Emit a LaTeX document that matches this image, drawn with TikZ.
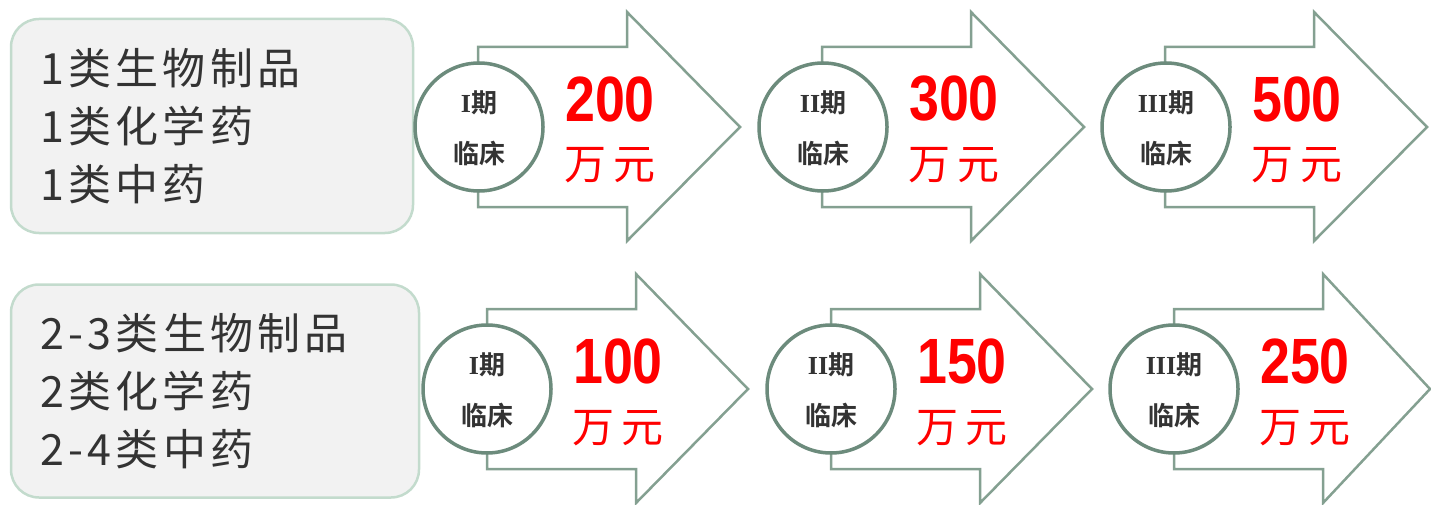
\documentclass[tikz,border=0pt]{standalone}
\usepackage{fontspec}
\setmainfont{Liberation Sans}
\newfontfamily\cjk{Noto Sans CJK SC}
\newfontfamily\cjkwide{Noto Sans CJK SC}[LetterSpace=10]
\newfontfamily\cjkb{Noto Sans CJK SC Bold}
\newfontfamily\serifb{Liberation Serif}[BoldFont=* Bold]
\newfontfamily\numf{Liberation Sans}
\definecolor{boxfill}{HTML}{F2F2F2}
\definecolor{boxline}{HTML}{C3DBCD}
\definecolor{arrline}{HTML}{84A091}
\definecolor{circline}{HTML}{6C8B7C}
\definecolor{txtgray}{HTML}{333333}
\definecolor{redtxt}{HTML}{FF0000}
\tikzset{
  leftbox/.style={draw=boxline, line width=2.5pt, fill=boxfill, rounded corners=28pt,
    minimum width=402pt, minimum height=214pt, inner sep=0pt},
  lefttext/.style={anchor=west, align=left, text=txtgray, inner sep=0pt,
    font=\cjkwide\fontsize{43}{58}\selectfont},
  arrowshape/.style={draw=arrline, line width=2.5pt, fill=white, line join=miter},
  phase/.style={circle, draw=circline, line width=3.5pt, fill=white, minimum size=128pt, inner sep=0pt},
  phasetext/.style={text=txtgray, inner sep=0pt, font=\cjkb\fontsize{26}{28}\selectfont},
  amount/.style={text=redtxt, inner sep=0pt, font=\numf\bfseries\fontsize{64}{64}\selectfont},
  unit/.style={text=redtxt, inner sep=0pt, font=\cjk\fontsize{42}{42}\selectfont},
}
\newcommand{\bigarrow}[3]{% #1 shaft left x, #2 mid y, #3 tip x
  \draw[arrowshape] (#1,#2-80) -- (#1+149,#2-80) -- (#1+149,#2-115) -- (#3,#2) -- (#1+149,#2+114) -- (#1+149,#2+80) -- (#1,#2+80) -- cycle;
}
\begin{document}
\begin{tikzpicture}[x=1pt,y=-1pt]
\useasboundingbox (0,0) rectangle (1431,505);
% row 1
\node[leftbox] (b1) at (212,126) {};
\node[lefttext] (t1) at (40,126) {1类生物制品\\1类化学药\\1类中药};
\bigarrow{478}{127}{740}
\bigarrow{822}{127}{1084}
\bigarrow{1165}{127}{1427}
\node[phase] (c11) at (479,127) {};
\node[phase] (c12) at (823,127) {};
\node[phase] (c13) at (1166,127) {};
\node[phasetext] (p11) at (479,103) {{\serifb\bfseries I}期};
\node[phasetext] (q11) at (479,153) {临床};
\node[phasetext] (p12) at (823,103) {{\serifb\bfseries II}期};
\node[phasetext] (q12) at (823,153) {临床};
\node[phasetext] (p13) at (1166,103) {{\serifb\bfseries III}期};
\node[phasetext] (q13) at (1166,153) {临床};
\node[amount] (a11) at (610,99) {\scalebox{0.84}[1]{200}};
\node[amount] (a12) at (954,99) {\scalebox{0.84}[1]{300}};
\node[amount] (a13) at (1297,99) {\scalebox{0.84}[1]{500}};
\node[unit] (u11) at (610,165) {万\,元};
\node[unit] (u12) at (954,165) {万\,元};
\node[unit] (u13) at (1297,165) {万\,元};
% row 2
\node[leftbox, minimum width=408pt, minimum height=213pt] (b2) at (215,391) {};
\node[lefttext] (t2) at (40,391) {2-3类生物制品\\2类化学药\\2-4类中药};
\bigarrow{487}{389}{748}
\bigarrow{831}{389}{1092}
\bigarrow{1174}{389}{1430}
\node[phase] (c21) at (487,389) {};
\node[phase] (c22) at (831,389) {};
\node[phase] (c23) at (1174,389) {};
\node[phasetext] (p21) at (487,365) {{\serifb\bfseries I}期};
\node[phasetext] (q21) at (487,415) {临床};
\node[phasetext] (p22) at (831,365) {{\serifb\bfseries II}期};
\node[phasetext] (q22) at (831,415) {临床};
\node[phasetext] (p23) at (1174,365) {{\serifb\bfseries III}期};
\node[phasetext] (q23) at (1174,415) {临床};
\node[amount] (a21) at (618,361) {\scalebox{0.84}[1]{100}};
\node[amount] (a22) at (962,361) {\scalebox{0.84}[1]{150}};
\node[amount] (a23) at (1305,361) {\scalebox{0.84}[1]{250}};
\node[unit] (u21) at (618,428) {万\,元};
\node[unit] (u22) at (962,428) {万\,元};
\node[unit] (u23) at (1305,428) {万\,元};
\end{tikzpicture}
\end{document}
